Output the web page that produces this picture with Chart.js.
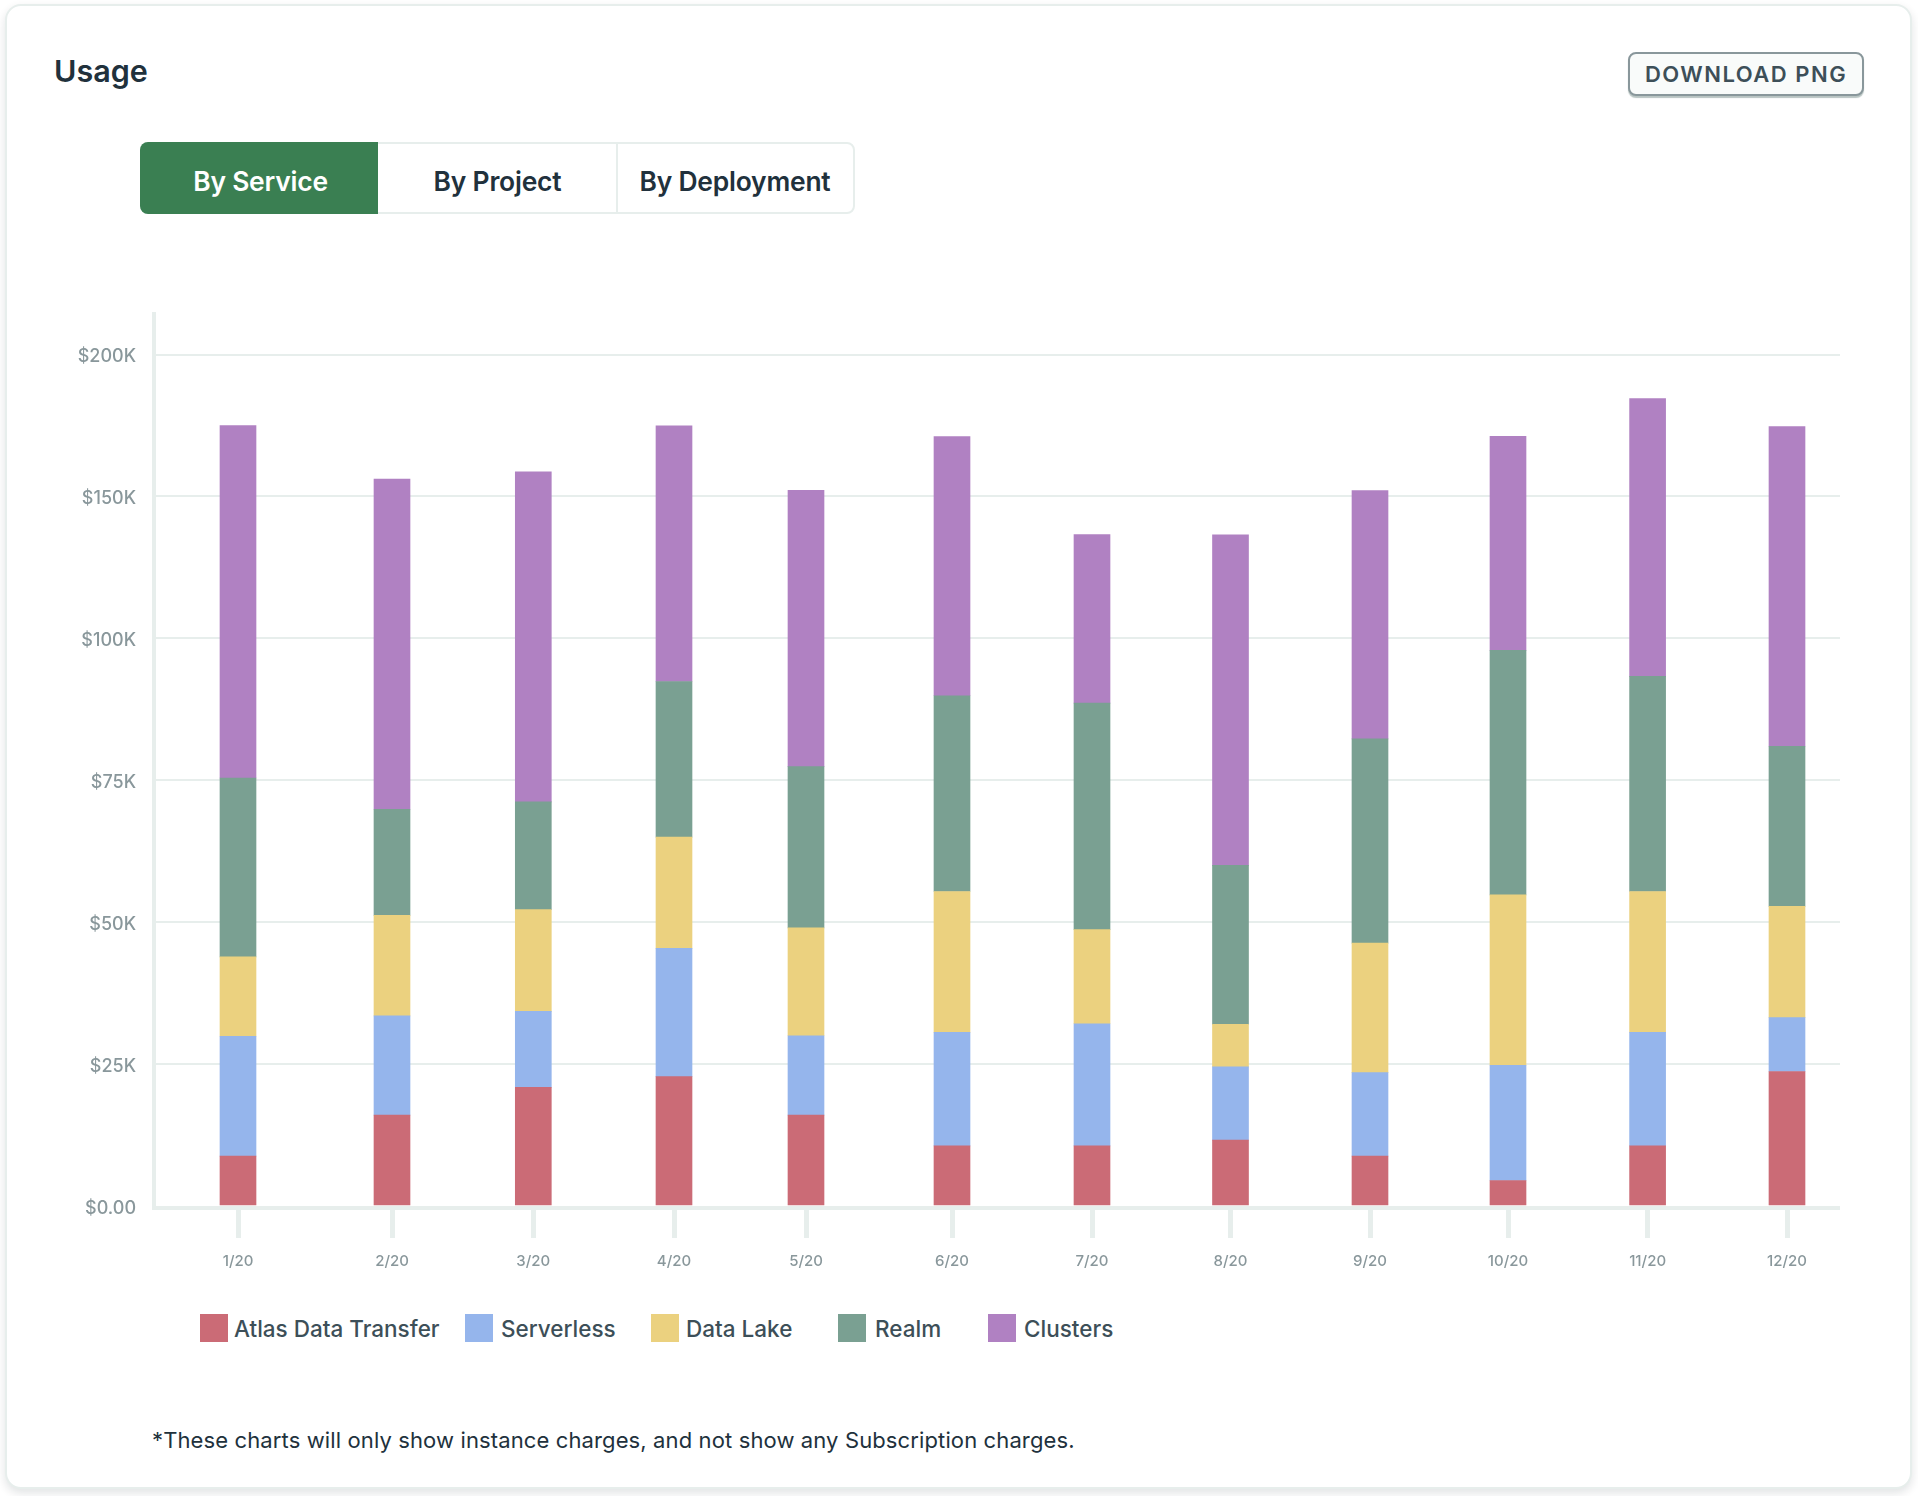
<!DOCTYPE html>
<html>
<head>
<meta charset="utf-8">
<title>Usage</title>
<script src="https://cdn.jsdelivr.net/npm/chart.js@4"></script>
<style>
  html, body { margin: 0; padding: 0; background: #fff; }
  body { width: 1918px; height: 1496px; position: relative; overflow: hidden; font-family: Inter, sans-serif; color: #21313C; }
  .card { position: absolute; left: 5px; top: 4px; width: 1903px; height: 1481px; background: #fff; border: 2px solid #E7EEEC; border-radius: 16px; box-shadow: 0 4px 10px rgba(6, 22, 33, 0.12); }
  .title { position: absolute; left: 54px; top: 51px; font-size: 30.5px; font-weight: 600; line-height: 40px; letter-spacing: 0; }
  .download { position: absolute; left: 1628px; top: 52px; width: 236px; height: 44px; box-sizing: border-box; background: #F9FBFA; border: 2px solid #89979B; border-radius: 8px; box-shadow: 0 2px 1px #B8C4C2; color: #3D4F58; font-size: 22px; font-weight: 600; letter-spacing: 1.5px; line-height: 40px; text-align: center; }
  .tabs { position: absolute; left: 140px; top: 142px; width: 715px; height: 72px; box-sizing: border-box; border: 2px solid #E7EEEC; border-radius: 8px; }
  .tab { position: absolute; top: 1px; height: 72px; line-height: 72px; text-align: center; font-size: 26.4px; font-weight: 600; letter-spacing: -0.2px; }
  .tab.on { top: -2px; line-height: 78px; background: #3A7F52; color: #fff; border-radius: 8px 0 0 8px; }
  .tab-line { position: absolute; left: 474px; top: 0; width: 2px; height: 68px; background: #E7EEEC; }
  canvas { position: absolute; left: 40px; top: 300px; }
  .legend-swatch { position: absolute; top: 1314px; width: 28px; height: 28px; }
  .legend-text { position: absolute; top: 1313px; height: 32px; line-height: 32px; font-size: 22.5px; font-weight: 500; color: #3D4F58; white-space: nowrap; }
  .note { position: absolute; left: 152px; top: 1423px; font-size: 22px; letter-spacing: 0.12px; line-height: 34px; white-space: nowrap; color: #21313C; }
</style>
</head>
<body>
<div class="card"></div>
<div class="title">Usage</div>
<div class="download">DOWNLOAD PNG</div>
<div class="tabs">
  <div class="tab on" style="left:-2px;width:238px;text-indent:3px">By Service</div>
  <div class="tab" style="left:236px;width:239px">By Project</div>
  <div class="tab-line"></div>
  <div class="tab" style="left:475px;width:236px">By Deployment</div>
</div>
<canvas id="usageChart" width="1800" height="1000"></canvas>
<div id="legend"></div>
<div class="note">*These charts will only show instance charges, and not show any Subscription charges.</div>

<script>
const months = ['1/20', '2/20', '3/20', '4/20', '5/20', '6/20', '7/20', '8/20', '9/20', '10/20', '11/20', '12/20'];

// values in $K
const atlasDataTransfer = [8.8, 16, 20.9, 22.8, 16, 10.6, 10.6, 11.6, 8.8, 4.5, 10.6, 23.7];
const serverless = [21.1, 17.5, 13.4, 22.6, 14, 20, 21.5, 12.9, 14.7, 20.3, 20, 9.5];
const dataLake = [14, 17.7, 17.9, 19.6, 19, 24.8, 16.6, 7.5, 22.8, 30, 24.8, 19.6];
const realm = [31.5, 18.7, 19, 27.4, 28.4, 34.5, 39.9, 28, 36, 43.1, 37.9, 28.2];
const clusters = [99.6, 86.2, 87.5, 82.5, 74.8, 81.2, 48, 76.5, 69.8, 73.3, 91.2, 93.6];

const yTickValues = [0, 25, 50, 75, 100, 150, 200];
const yTickLabels = ['$0.00', '$25K', '$50K', '$75K', '$100K', '$150K', '$200K'];

const seriesNames = ['Atlas Data Transfer', 'Serverless', 'Data Lake', 'Realm', 'Clusters'];
const seriesValues = [atlasDataTransfer, serverless, dataLake, realm, clusters];
const seriesColors = ['#CB6B76', '#95B5EC', '#EBD17F', '#7AA092', '#B081C2'];

// the reference axis is not linear: its ticks sit at equal distances
class SteppedScale extends Chart.LinearScale {
    static id = 'stepped';
    static defaults = Chart.LinearScale.defaults;

    buildTicks() {
        super.buildTicks();
        return yTickValues.map(v => ({ value: v }));
    }

    stepsFor(value) {
        const last = yTickValues.length - 1;
        let i = 0;
        while (i < last - 1 && value > yTickValues[i + 1]) i++;
        return i + (value - yTickValues[i]) / (yTickValues[i + 1] - yTickValues[i]);
    }

    getPixelForValue(value) {
        return this.getPixelForDecimal(this.stepsFor(value) / this.stepsFor(this.max));
    }

    // labels sit a little lower than Chart.js centres them
    _computeLabelItems(chartArea) {
        const items = super._computeLabelItems(chartArea);
        items.forEach(item => { item.options.translation[1] += 2.5; });
        return items;
    }
}

// months are not evenly spread in the reference, so the slots have their own widths
const xSlotWidths = [82, 154, 141.3, 140.7, 132, 146, 140, 138.5, 139.5, 138, 139.6, 139.4, 53];

class SlottedScale extends Chart.CategoryScale {
    static id = 'slotted';
    static defaults = Chart.CategoryScale.defaults;

    getPixelForValue(value) {
        const index = typeof value === 'number' ? value : this.parse(value);
        const total = xSlotWidths.reduce((a, b) => a + b, 0);
        const before = xSlotWidths.slice(0, index + 1).reduce((a, b) => a + b, 0);
        return this.getPixelForDecimal(before / total);
    }
}

Chart.register(SteppedScale, SlottedScale);

// axis lines sit just outside the plot area, under the bars
const axisLines = {
    id: 'axisLines',
    beforeDatasetsDraw(chart) {
        const { ctx, chartArea: a } = chart;
        ctx.save();
        ctx.fillStyle = '#E7EEEC';
        ctx.fillRect(a.left - 4, a.bottom, a.right - a.left + 4, 4);
        ctx.fillRect(a.left - 4, a.top, 4, a.bottom - a.top + 4);
        ctx.restore();
    }
};

// keep the plot area where the reference has it, whatever the labels overhang
function fixMargins(scale) {
    scale.paddingTop = 0;
    scale.paddingBottom = 0;
    scale.paddingLeft = 0;
    scale.paddingRight = 0;
}

new Chart(document.getElementById('usageChart'), {
    type: 'bar',
    data: {
        labels: months,
        datasets: seriesNames.map((name, i) => ({
            label: name,
            data: seriesValues[i],
            backgroundColor: seriesColors[i],
            barThickness: 36
        }))
    },
    options: {
        responsive: false,
        animation: false,
        layout: { padding: { top: 12, right: 0, bottom: 0, left: 0 } },
        plugins: { legend: { display: false } },
        scales: {
            x: {
                type: 'slotted',
                stacked: true,
                afterFit: scale => { scale.height = 94; fixMargins(scale); },
                border: { display: false },
                grid: { offset: false, drawOnChartArea: false, color: '#E7EEEC', tickColor: '#E7EEEC', tickWidth: 5, tickLength: 32 },
                ticks: {
                    autoSkip: false,
                    maxRotation: 0,
                    padding: 14,
                    color: '#89979B',
                    font: { family: 'Inter', size: 15, weight: 500 }
                }
            },
            y: {
                type: 'stepped',
                stacked: true,
                min: 0,
                max: 215,
                afterFit: scale => { scale.width = 116; fixMargins(scale); },
                border: { display: false },
                grid: {
                    drawTicks: false,
                    lineWidth: 2,
                    color: ctx => (ctx.tick && ctx.tick.value === 0 ? 'transparent' : '#E7EEEC')
                },
                ticks: {
                    autoSkip: false,
                    padding: 20,
                    color: '#89979B',
                    font: { family: 'Inter', size: 18, weight: 500 },
                    callback: (value, index) => yTickLabels[index]
                }
            }
        }
    },
    plugins: [axisLines]
});

// legend, spaced like the reference
const legendSwatchLeft = [200, 465, 651, 838, 988];
const legendTextLeft = [234, 501, 686, 875, 1024];
const legend = document.getElementById('legend');
seriesNames.forEach((name, i) => {
    const swatch = document.createElement('div');
    swatch.className = 'legend-swatch';
    swatch.style.left = legendSwatchLeft[i] + 'px';
    swatch.style.background = seriesColors[i];
    legend.appendChild(swatch);
    const text = document.createElement('div');
    text.className = 'legend-text';
    text.style.left = legendTextLeft[i] + 'px';
    text.textContent = name;
    legend.appendChild(text);
});
</script>
</body>
</html>
